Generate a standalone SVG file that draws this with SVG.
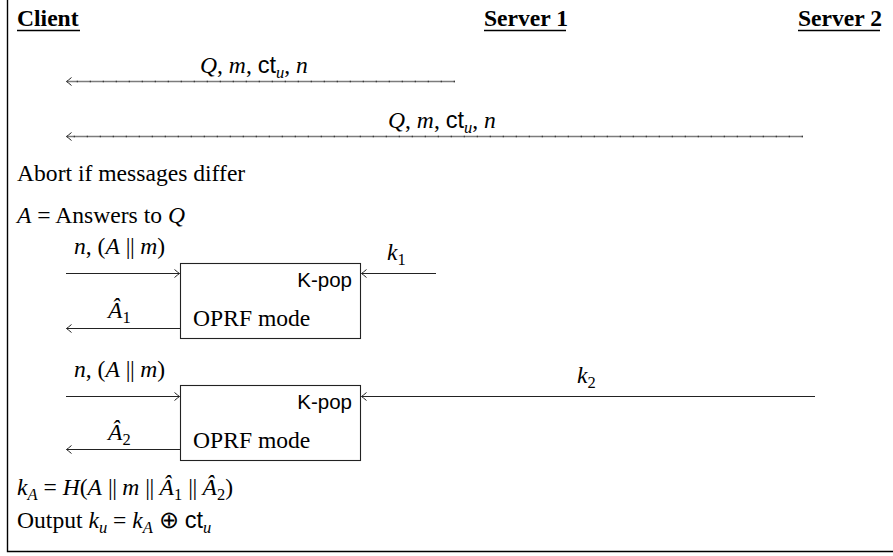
<svg xmlns="http://www.w3.org/2000/svg" width="893" height="556" viewBox="0 0 893 556">
  <style>
    .t { font-family: "Liberation Serif", "Times New Roman", serif; font-size: 23.6px; fill: #000; }
    .b { font-weight: bold; }
    .i { font-style: italic; }
    .sf { font-family: "Liberation Sans", Arial, sans-serif; font-style: normal; }
    .s { font-size: 16.5px; }
    .par { letter-spacing: -0.5px; }
    .kpop { font-family: "Liberation Sans", Arial, sans-serif; font-size: 20.5px; fill: #000; }
    .box { fill: #fff; stroke: #222; stroke-width: 1.1; }
    .wire { stroke: #222; stroke-width: 1.1; fill: none; marker-end: url(#tip); }
    .msg { stroke: #7c7c7c; stroke-width: 1.5; fill: none; marker-end: url(#tip); }
    .tick { stroke: #3a3a3a; stroke-width: 1.6; stroke-dasharray: 1.3 11.7; fill: none; }
    .frame { stroke: #000; stroke-width: 1.4; fill: none; }
    .ul { stroke: #000; stroke-width: 1.4; }
  </style>
  <defs>
    <marker id="tip" viewBox="-7 -5 8 10" markerWidth="8" markerHeight="10" refX="0" refY="0" orient="auto" markerUnits="userSpaceOnUse">
      <path d="M-5,-4 Q-1.5,-1 0,0 Q-1.5,1 -5,4" fill="none" stroke="#222" stroke-width="1"/>
    </marker>
  </defs>

  <!-- frame -->
  <path class="frame" d="M7.5,0 V551.5 H893"/>

  <!-- party headers -->
  <g id="client">
    <text class="t b" x="17" y="26">Client</text>
    <line class="ul" x1="17" y1="30.5" x2="80" y2="30.5"/>
  </g>
  <g id="server1">
    <text class="t b" x="484" y="26">Server 1</text>
    <line class="ul" x1="484" y1="30.5" x2="566" y2="30.5"/>
  </g>
  <g id="server2">
    <text class="t b" x="798" y="26">Server 2</text>
    <line class="ul" x1="798" y1="30.5" x2="880" y2="30.5"/>
  </g>

  <!-- oprf blocks -->
  <g id="oprf1">
    <rect class="box" x="180.5" y="263.5" width="180" height="75"/>
    <text class="kpop" x="352" y="287" text-anchor="end">K-pop</text>
    <text class="t" x="193" y="326">OPRF mode</text>
  </g>
  <g id="oprf2">
    <rect class="box" x="180.5" y="385.5" width="180" height="75"/>
    <text class="kpop" x="352" y="409" text-anchor="end">K-pop</text>
    <text class="t" x="193" y="448">OPRF mode</text>
  </g>

  <!-- connectors -->
  <g id="connectors">
    <path class="msg" d="M455,81.5 H66.5"/>
    <path class="tick" d="M455,81.5 H72"/>
    <path class="msg" d="M803,136.5 H66.5"/>
    <path class="tick" d="M803,136.5 H72"/>

    <path class="wire" d="M66,273.5 H179.5"/>
    <path class="wire" d="M180,328.5 H66.5"/>
    <path class="wire" d="M436,273.5 H361.5"/>

    <path class="wire" d="M66,396.5 H179.5"/>
    <path class="wire" d="M180,449.5 H66.5"/>
    <path class="wire" d="M815,396.5 H361.5"/>
  </g>

  <!-- connector labels -->
  <g id="labels">
    <text class="t" x="200" y="73"><tspan class="i">Q</tspan>, <tspan class="i">m</tspan>, <tspan class="sf">ct</tspan><tspan class="i s" dy="5">u</tspan><tspan dy="-5">, </tspan><tspan class="i">n</tspan></text>
    <text class="t" x="388" y="128"><tspan class="i">Q</tspan>, <tspan class="i">m</tspan>, <tspan class="sf">ct</tspan><tspan class="i s" dy="5">u</tspan><tspan dy="-5">, </tspan><tspan class="i">n</tspan></text>

    <text class="t" x="74" y="254"><tspan class="i">n</tspan>, (<tspan class="i">A</tspan> <tspan class="par">||</tspan> <tspan class="i">m</tspan>)</text>
    <text class="t" x="108" y="318"><tspan class="i">Â</tspan><tspan class="s" dy="5">1</tspan></text>
    <text class="t" x="387" y="260"><tspan class="i">k</tspan><tspan class="s" dy="5">1</tspan></text>

    <text class="t" x="74" y="377"><tspan class="i">n</tspan>, (<tspan class="i">A</tspan> <tspan class="par">||</tspan> <tspan class="i">m</tspan>)</text>
    <text class="t" x="108" y="440"><tspan class="i">Â</tspan><tspan class="s" dy="5">2</tspan></text>
    <text class="t" x="577" y="383"><tspan class="i">k</tspan><tspan class="s" dy="5">2</tspan></text>
  </g>

  <!-- client-side steps -->
  <g id="steps">
    <text class="t" x="17" y="181">Abort if messages differ</text>
    <text class="t" x="17" y="223"><tspan class="i">A</tspan> = Answers to <tspan class="i">Q</tspan></text>
    <text class="t" x="17" y="495"><tspan class="i">k</tspan><tspan class="i s" dy="5">A</tspan><tspan dy="-5"> = </tspan><tspan class="i">H</tspan>(<tspan class="i">A</tspan> <tspan class="par">||</tspan> <tspan class="i">m</tspan> <tspan class="par">||</tspan> <tspan class="i">Â</tspan><tspan class="s" dy="5">1</tspan><tspan dy="-5"> </tspan><tspan class="par">||</tspan> <tspan class="i">Â</tspan><tspan class="s" dy="5">2</tspan><tspan dy="-5">)</tspan></text>
    <text class="t" x="17" y="528">Output <tspan class="i">k</tspan><tspan class="i s" dy="5">u</tspan><tspan dy="-5"> = </tspan><tspan class="i">k</tspan><tspan class="i s" dy="5">A</tspan><tspan dy="-5"> ⊕ </tspan><tspan class="sf">ct</tspan><tspan class="i s" dy="5">u</tspan></text>
  </g>
</svg>
